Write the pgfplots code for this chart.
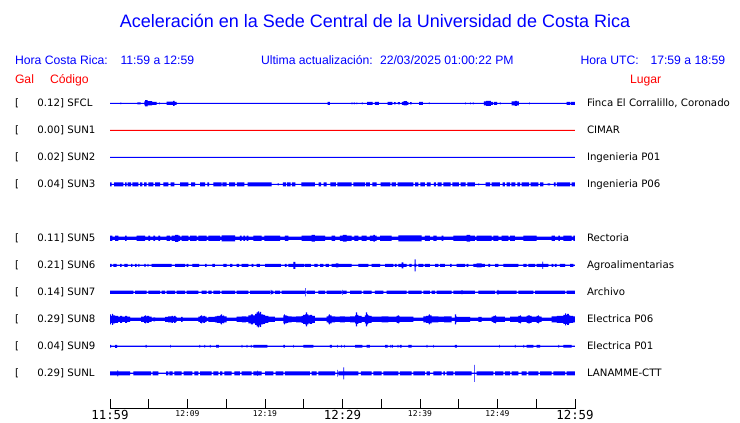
\documentclass[border=0pt]{standalone}
\usepackage{pgfplots}
\usepackage{pgfplotstable}
\pgfplotsset{compat=1.18}
\usepackage{fontspec}
\setmainfont{Liberation Sans}
\newfontfamily\lab{DejaVu Sans}
\newfontfamily\mono{DejaVu Sans Mono}
\definecolor{tb}{RGB}{0,0,255}
\definecolor{tr}{RGB}{255,0,0}

% envelopes: p = position along trace (px, 465 px = 60 min), a = half amplitude (px)
\pgfplotstableread[row sep=\\]{p a\\
0 0.5\\10.5 1\\11.2 0.5\\27.3 1\\30.7 0.5\\34.3 2\\35 3.2\\37.5 2.2\\42 1.5\\46.7 0.5\\49 1\\49.7 0.5\\
56.7 1.7\\63 2.5\\64.5 1.5\\66.7 0.5\\217.7 1.5\\220 0.5\\241.7 1\\242.3 0.5\\244 1\\244.7 0.5\\246.5 1\\247.2 0.5\\
252 1\\252.7 0.5\\257 1.5\\262.7 0.5\\265 1.5\\269 0.5\\277.7 1.5\\282.3 0.5\\284 1.2\\285.7 0.5\\288 1.2\\290 0.5\\
292 1.5\\293.5 2.2\\297 1.5\\298.3 0.5\\300 1.2\\301.7 0.5\\309 1.5\\313 0.5\\319 0.8\\319.6 0.5\\355 1\\355.7 0.5\\
360 1\\360.7 0.5\\363 1\\363.7 0.5\\374 2\\376 2.5\\381 1.5\\383 0.5\\384 1.5\\387 0.5\\390 1\\390.7 0.5\\
401.7 2\\405 2.5\\407 2\\409 0.5\\419 1\\419.7 0.5\\456.7 1.5\\460 0.5\\461 1.5\\465 1.5\\
}\tSFCL
\pgfplotstableread[row sep=\\]{p a\\0 0.5\\465 0.5\\}\tSUNa
\pgfplotstableread[row sep=\\]{p a\\0 0.5\\465 0.5\\}\tSUNb
\pgfplotstableread[row sep=\\]{p a\\
0 2\\1.7 0.5\\4 2\\13.3 0.5\\15 2\\16.7 0.5\\17.7 2\\21 0.5\\22.3 2\\28.3 0.5\\30 2\\32.3 0.5\\34 2\\36.7 0.5\\
38.3 2\\43.3 0.5\\45 2\\50 0.5\\53.3 2\\58.3 0.5\\60.7 2\\64.3 0.5\\70 2\\78.3 0.5\\81 2\\85 0.5\\90 2\\95 0.5\\
97.3 2\\99 0.5\\103.3 2\\111.7 0.5\\112.3 2\\116.7 0.5\\119 2\\125 0.5\\127 2\\134.3 0.5\\137.7 2\\161.7 0.5\\
167.7 1\\169 0.5\\173 2\\176 0.5\\177 2\\180.7 0.5\\182 2\\185.3 0.5\\191.3 2\\205 0.5\\208.7 2\\211 0.5\\
213.7 2\\216.7 0.5\\220.3 2\\226 0.5\\227.3 2\\241.7 0.5\\243.3 2\\255 0.5\\256 2\\260 0.5\\262.3 2\\266.7 0.5\\
270.7 2\\280.3 0.5\\281.7 2\\286 0.5\\287.7 2\\303.3 0.5\\305 2\\308.3 0.5\\310.3 2\\315 0.5\\317 2\\320.7 0.5\\
324 2\\326 0.5\\327.7 2\\331.7 0.5\\333.3 2\\340.7 0.5\\342.3 2\\349 0.5\\350.7 2\\355.7 0.5\\357.3 2\\365 0.5\\
368.3 1\\369 0.5\\375.7 2\\380 0.5\\381.7 2\\390 0.5\\392.7 2\\395 0.5\\396.7 2\\400 0.5\\401.3 2\\405.3 0.5\\
407.3 2\\410 0.5\\411.7 2\\419 0.5\\420.7 2\\428.3 0.5\\430 2\\433.3 0.5\\437.7 1\\440 0.5\\444 2\\445.7 0.5\\
447 2\\460 0.5\\461.7 2\\465 2\\
}\tSUNc
\pgfplotstableread[row sep=\\]{p a\\
0 2.7\\2.3 1.7\\5 2.7\\8.3 1.7\\15 2.7\\16.7 1.7\\26.7 2.7\\35 1.7\\38.3 2.7\\40 1.7\\43.3 2.7\\45 1.7\\
48.3 2.7\\50 1.7\\56.7 2.7\\60 1.7\\61.7 2.7\\65 3.5\\68.3 2.7\\70 1.7\\71.7 2.7\\78.3 1.7\\80 2.7\\86.7 1.7\\
88.3 2.7\\96.7 1.7\\98.3 2.7\\110 1.7\\111.7 3\\125 1.7\\130 2.7\\131.7 1.7\\133.3 2.7\\135 1.7\\136.7 2.7\\138.3 1.7\\
143.3 2.7\\151.7 1.7\\154.3 2.7\\170 1.7\\175 2.7\\178.3 1.7\\191.7 2.7\\201.7 3.3\\205 2.7\\215 1.7\\
221.7 2.7\\225 1.7\\230 2.7\\233 3.3\\236.7 2.7\\241.7 1.7\\244.3 2.7\\248.3 1.7\\251.7 2.7\\256.7 1.7\\
260 2.7\\263.3 3.3\\265 2.7\\266.7 1.7\\270 2.7\\281.7 1.7\\288.3 3\\311.7 1.7\\315 2.7\\320 1.7\\
323.3 2.7\\326.7 1.7\\331.7 2.7\\333.3 1.7\\343.3 2.7\\356.7 3.3\\360 2.7\\365 1.7\\366.7 2.7\\381.7 1.7\\
383.3 2.7\\388.3 1.7\\391.7 2.7\\398.3 1.7\\400 2.7\\405 1.7\\413.3 2.7\\426.7 1.7\\441.7 2.7\\445 1.7\\
448.3 2.7\\450 1.7\\453.3 2.7\\461.7 1.7\\463.3 2.7\\465 2.7\\
}\tSUNe
\pgfplotstableread[row sep=\\]{p a\\
0 1.5\\1.7 0.6\\3.3 1.5\\6.7 0.6\\10 1.5\\11.7 0.6\\14.3 1.5\\17.7 0.6\\21 1.5\\22.3 0.6\\25 1.5\\26.7 0.6\\
28.3 1.5\\29.3 0.6\\34.3 1.5\\35.7 0.6\\37.7 1.5\\38.3 0.6\\41.7 1.5\\61.7 0.6\\65 1.5\\75 0.6\\76.7 1.5\\78.3 0.6\\
82.3 1.5\\89 0.6\\95 1.5\\96.7 0.6\\102.3 1.5\\105 0.6\\113.3 1.5\\116.7 0.6\\120 1.5\\122.3 0.6\\126.7 1.5\\129 0.6\\
131.7 1.5\\138.3 0.6\\141.7 1.5\\143.3 0.6\\146.7 1.5\\150 0.6\\155 1.5\\171 0.6\\175 1.5\\176.7 0.6\\
178.3 1.5\\183.3 3.5\\185.3 1.5\\194.3 0.6\\195 1.5\\201 0.6\\204.3 1.5\\207.7 0.6\\210 1.5\\213.3 0.6\\
215.7 1.5\\219 0.6\\221.7 1.5\\226 2\\228.3 1.5\\241.7 0.6\\248.3 1.5\\258.3 0.6\\261.7 1.5\\270 0.6\\
275 1.5\\283.3 0.6\\285 1.5\\286.7 0.6\\288.3 1.5\\291.7 3\\293.3 1.5\\296.7 0.6\\299.3 1.5\\301.7 0.6\\
304.3 1.5\\304.7 6\\305.7 1.5\\306.3 0.6\\308.3 1.5\\313.3 0.6\\315 1.5\\320 0.6\\325 1.5\\328.3 0.6\\
330 1.5\\335 0.6\\340 1.5\\341.7 0.6\\346.7 1.5\\355 0.6\\356.7 1.5\\358.3 0.6\\363.3 1.5\\366.7 2\\371.7 1.5\\375 0.6\\
378.3 1.5\\380 0.6\\385 1.5\\388.3 0.6\\393.3 1.5\\408.3 0.6\\413.3 1.5\\416.7 0.6\\418.3 1.5\\425 0.6\\
426.7 1.5\\432.3 3.7\\433 1.5\\438.3 0.6\\441.7 1.5\\443.3 0.6\\445 1.5\\446.7 0.6\\450 1.5\\455 0.6\\
460 1.5\\463.3 0.6\\465 0.6\\
}\tSUNf
\pgfplotstableread[row sep=\\]{p a\\
0 1.7\\23.3 0.7\\25 1.7\\36.7 0.7\\38.3 1.7\\50 0.7\\51.7 1.7\\55 0.7\\56.7 1.7\\65 0.7\\66.7 1.7\\75 0.7\\
76.7 1.7\\88.3 0.7\\91.7 1.7\\96.7 0.7\\98.3 1.7\\101.7 0.7\\103.3 1.7\\110 0.7\\111.7 1.7\\125 0.7\\
126.7 1.7\\138.3 0.7\\140 1.7\\160 0.7\\160.7 2.3\\161.3 0.7\\161.7 1.7\\163.3 0.7\\165 1.7\\170 0.7\\
171.7 1.7\\195 4.2\\195.7 0.7\\196.7 1.7\\205 0.7\\208.3 1.7\\215 0.7\\216.7 1.7\\231.7 0.7\\232.3 2.5\\233 1.7\\236.7 0.7\\
240 1.7\\251.7 0.7\\253.3 1.7\\261.7 0.7\\265 1.7\\273.3 0.7\\276.7 1.7\\296.7 0.7\\298.3 1.7\\311.7 0.7\\
313.3 1.7\\320 0.7\\321.7 1.7\\325 0.7\\326.7 1.7\\341.7 0.7\\343.3 1.7\\351.7 2.2\\352.3 1.7\\365 0.7\\
368.3 1.7\\385 0.7\\386.7 1.7\\387.7 2.5\\388.3 1.7\\406.7 0.7\\408.3 1.7\\423.3 0.7\\425 1.7\\455 0.7\\
456.7 1.7\\465 1.7\\
}\tSUNg
\pgfplotstableread[row sep=\\]{p a\\
0 5\\1 3.5\\2 5.5\\3 4\\5 3.5\\8 2.7\\10 3.5\\12 2.7\\15 3.5\\17 2.7\\20 1.7\\
31 2.7\\34 3.5\\35 4\\36 3\\37 3.5\\39 2.7\\41.7 1.7\\43.3 2\\45 1.7\\
55 2.5\\58 3\\61.7 3.5\\63 2.7\\64 3.5\\65.7 2.5\\66.7 1.7\\71 2.5\\72.7 1.7\\
88.3 2.7\\90 3.5\\91 4\\92 3\\93.3 3.5\\95 2.7\\96.7 1.7\\98.3 2.5\\105 3\\107 3.5\\110 4\\111 5\\112 3.5\\113.3 4\\114 3\\116.7 1.7\\
126.7 2.7\\132 3\\136 2.7\\138.3 4\\141 5\\143 4\\145 5.5\\146.7 7\\148 8\\149 6\\150 7.5\\151 5\\153 4.5\\155 3.5\\158.3 2.7\\165 1.7\\
173.3 4\\174 5\\175 4\\176.7 3.5\\178 3\\181.7 2.7\\186 3\\191.7 3.5\\193 4.5\\195 5\\196 7\\197 5\\198.3 4\\200 4.5\\202 3.5\\205 1.7\\
216.7 3\\218.3 4\\219 5\\220 4\\221.7 3\\225 2.7\\230 3\\235 2.7\\240 3\\245 4\\246 7\\247 4.5\\248.3 3.5\\251.7 2.5\\
255 4\\256 7\\257 5\\258 4\\259 3.5\\261.7 2.7\\271.7 3\\278.3 2.7\\286.7 3.5\\288 4\\289 3\\290 2.7\\303.3 1.7\\
313.3 3\\316 3.5\\318.3 4\\319 5\\320 4\\321.7 3\\328.3 2.7\\334 3\\341.7 1.7\\345 5\\346 3\\346.7 2.5\\360 1.7\\
368.3 2.5\\371.7 1.7\\381.7 2.7\\383.3 3.5\\385 4\\386 3\\386.7 2.7\\395 1.7\\400 2.7\\408.3 3.5\\410 4\\411 3\\411.7 2.7\\
416.7 3.5\\418 4\\420 3.5\\421.7 2.7\\426.7 3.5\\428 4\\429 3\\430 2.7\\431.7 1.7\\
441.7 3\\447 3.5\\453.3 4.5\\455 6\\456 4.5\\457 5.5\\459 4\\460 3.5\\463 3\\465 3\\
}\tSUNh
\pgfplotstableread[row sep=\\]{p a\\
0 1.3\\1 0.6\\5 1.5\\7 0.6\\35.7 1.3\\36.7 0.6\\60 1.3\\60.7 0.6\\89.3 1.3\\90 0.6\\94.3 1.3\\95 0.6\\
100 1.3\\100.7 0.6\\106 1.3\\109 0.6\\131.7 1.3\\132.3 0.6\\136.7 1.3\\137.3 0.6\\141 1.3\\141.7 0.6\\
143.3 1.3\\157.3 0.6\\173.3 1.3\\175 0.6\\183.3 1.3\\184 0.6\\193.3 1.3\\203.3 0.6\\220 1.3\\222 0.6\\
227.3 1.3\\228 0.6\\231 1.3\\231.7 0.6\\234.3 1.3\\235 0.6\\245 1.3\\252.3 0.6\\256.7 1.3\\260 0.6\\
275 1.3\\277.7 0.6\\280 1.3\\280.7 0.6\\281.7 1.3\\283 0.6\\287.7 1.3\\288.3 0.6\\290 1.3\\291.7 0.6\\
298.3 1.3\\301.7 0.6\\316.7 1.3\\317.3 0.6\\323.3 1.3\\324 0.6\\345 1.3\\347 0.6\\389.3 1.3\\390 0.6\\
405 1.3\\405.7 0.6\\413.3 1.3\\414 0.6\\416.7 1.3\\423.3 0.6\\426.7 1.3\\430 0.6\\448.3 1.3\\449 0.6\\
453.3 1.3\\461.7 0.6\\465 0.6\\
}\tSUNi
\pgfplotstableread[row sep=\\]{p a\\
0 2\\7.3 3\\8 2\\20 0.6\\23.3 2\\41 0.6\\42.7 2\\48.3 0.6\\56 2\\58.3 0.6\\59.3 2\\62.7 0.6\\64.3 2\\71.7 0.6\\
73.7 2\\82.3 0.6\\84.3 2\\88.3 0.6\\90 2\\101.7 0.6\\103.3 2\\108.3 0.6\\110 2\\112.3 0.6\\114.3 2\\121.7 0.6\\
124.3 2\\130 0.6\\131.7 2\\141.7 0.6\\143.3 2\\147.3 2.7\\148 2\\151.7 0.6\\155 2\\163.3 0.6\\165.7 2\\173.3 0.6\\
175 2\\200 0.6\\201.7 2\\206.7 0.6\\208.3 2\\225 0.6\\227.3 3.3\\228 0.6\\228.3 2\\233.3 6\\234 2\\248.3 0.6\\
251 2\\261.7 0.6\\263.3 2\\271.7 0.6\\273.3 2\\288.3 0.6\\290 2\\301.7 0.6\\303.3 2\\315 0.6\\316.7 2\\320 0.6\\
323.3 2\\331.7 0.6\\333.3 2\\335 0.6\\336.7 2\\343.3 0.6\\345 2\\361.7 0.6\\364.3 8.5\\365 0.6\\366.7 2\\383.3 0.6\\
385 2\\393.3 0.6\\395 2\\400 0.6\\401.7 2\\408.3 0.6\\411.7 2\\416.7 0.6\\418.3 2\\428.3 0.6\\430 2\\441.7 0.6\\
443.3 2\\455 0.6\\456.7 2\\465 2\\
}\tSUNL

\pgfplotsset{trace/.style={scale only axis, width=465bp, height=27bp, xmin=0, xmax=60,
  ymin=-13.5, ymax=13.5, hide axis, clip=false, anchor=west}}

\newcommand{\labfont}{\lab\fontsize{10.2bp}{12bp}\selectfont}
\newcommand{\hdfont}{\fontsize{12.2bp}{14bp}\selectfont}
\newcommand{\bigt}{\mono\fontsize{12.4bp}{14bp}\selectfont}
\newcommand{\smt}{\mono\fontsize{8bp}{9bp}\selectfont}

% #1 centre y, #2 gal, #3 code, #4 place, #5 table, #6 colour
\newcommand{\row}[6]{%
  \begin{axis}[trace, at={(110bp,#1bp)}]
    \addplot[const plot, fill=#6, draw=none] table[x expr=\thisrow{p}/7.75, y=a] {#5} \closedcycle;
    \addplot[const plot, fill=#6, draw=none] table[x expr=\thisrow{p}/7.75, y expr=-\thisrow{a}] {#5} \closedcycle;
    \addplot[#6, line width=0.6bp] coordinates {(0,0) (60,0)};
  \end{axis}
  \node[txt, font=\labfont, anchor=base west] at (15bp,#1bp-3.7bp) {[};
  \node[txt, font=\labfont, anchor=base west] at (27.7bp,#1bp-3.7bp) {#2] #3};
  \node[txt, font=\labfont, anchor=base west] at (587bp,#1bp-3.7bp) {#4};
}

\begin{document}
\begin{tikzpicture}[txt/.style={inner sep=0pt, outer sep=0pt}]
\useasboundingbox (0,0) rectangle (740bp,423bp);

\node[txt, anchor=base, text=tb, font=\fontsize{18bp}{20bp}\selectfont] at (375bp,395bp)
  {Aceleración en la Sede Central de la Universidad de Costa Rica};

\node[txt, anchor=base west, text=tb, font=\hdfont] at (15bp,358bp) {Hora Costa Rica:};
\node[txt, anchor=base west, text=tb, font=\hdfont] at (120.5bp,358bp) {11:59 a 12:59};
\node[txt, anchor=base west, text=tb, font=\hdfont] at (261bp,358bp) {Ultima actualización:};
\node[txt, anchor=base west, text=tb, font=\hdfont] at (380bp,358bp) {22/03/2025 01:00:22 PM};
\node[txt, anchor=base west, text=tb, font=\hdfont] at (580.5bp,358bp) {Hora UTC:};
\node[txt, anchor=base west, text=tb, font=\hdfont] at (650.5bp,358bp) {17:59 a 18:59};
\node[txt, anchor=base west, text=tr, font=\hdfont] at (15bp,339bp) {Gal};
\node[txt, anchor=base west, text=tr, font=\hdfont] at (50bp,339bp) {Código};
\node[txt, anchor=base west, text=tr, font=\hdfont] at (630bp,339bp) {Lugar};

\row{319.7}{\ \ \ 0.12}{SFCL}{Finca El Corralillo, Coronado}{\tSFCL}{tb}
\row{292.7}{\ \ \ 0.00}{SUN1}{CIMAR}{\tSUNa}{tr}
\row{265.7}{\ \ \ 0.02}{SUN2}{Ingenieria P01}{\tSUNb}{tb}
\row{238.7}{\ \ \ 0.04}{SUN3}{Ingenieria P06}{\tSUNc}{tb}
\row{184.7}{\ \ \ 0.11}{SUN5}{Rectoria}{\tSUNe}{tb}
\row{157.7}{\ \ \ 0.21}{SUN6}{Agroalimentarias}{\tSUNf}{tb}
\row{130.7}{\ \ \ 0.14}{SUN7}{Archivo}{\tSUNg}{tb}
\row{103.7}{\ \ \ 0.29}{SUN8}{Electrica P06}{\tSUNh}{tb}
\row{76.7}{\ \ \ 0.04}{SUN9}{Electrica P01}{\tSUNi}{tb}
\row{49.7}{\ \ \ 0.29}{SUNL}{LANAMME-CTT}{\tSUNL}{tb}

\begin{axis}[at={(110bp,14.5bp)}, anchor=south west, scale only axis, width=465bp, height=20bp,
  xmin=0, xmax=60, ymin=0, ymax=1, axis x line*=bottom, axis y line=none,
  x axis line style={-, line width=0.8bp},
  xtick={0,5,...,60},
  xticklabels={{\bigt\raisebox{-1.5bp}{11:59}},{},{\smt 12:09},{},{\smt 12:19},{},{\bigt\raisebox{-1.5bp}{12:29}},{},{\smt 12:39},{},{\smt 12:49},{},{\bigt\raisebox{-1.5bp}{12:59}}},
  tick align=inside, major tick length=9bp, xtick style={line width=0.8bp, black},
  xticklabel style={anchor=north, inner sep=0pt, yshift=-2bp}]
\end{axis}
\end{tikzpicture}
\end{document}
